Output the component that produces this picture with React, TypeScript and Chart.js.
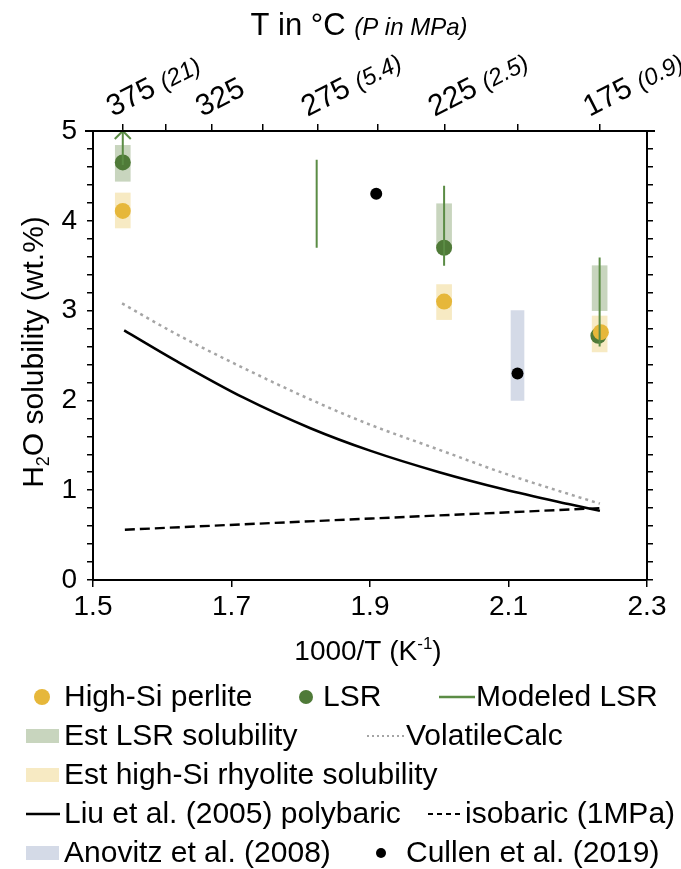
import React, { useEffect, useRef } from 'react';
import { Chart, registerables } from 'chart.js';

Chart.register(...registerables);

const W = 681;
const H = 869;
const PLOT_LEFT = 93;
const PLOT_RIGHT = 647;
const PLOT_TOP = 131;
const PLOT_BOTTOM = 580;
const FONT = '"Liberation Sans", Arial, Helvetica, sans-serif';

// ---- axis ticks ----
const xTickValues = [1.5, 1.7, 1.9, 2.1, 2.3];
const topTickTempsC = [375, 350, 325, 300, 275, 250, 225, 200, 175];
const topLabelTempsC = [375, 325, 275, 225, 175];
const topLabelPressures = ['(21)', '', '(5.4)', '(2.5)', '(0.9)'];

// ---- data (x = 1000/T in K^-1, y = H2O wt.%) ----
const perliteX = [1.543, 2.007, 2.2334];
const perliteY = [4.11, 3.1, 2.76];

const lsrX = [1.543, 2.007, 2.2298];
const lsrY = [4.65, 3.7, 2.72];

const modeledX = [1.543, 1.823, 2.007, 2.2316];
const modeledLo = [4.62, 3.7, 3.5, 2.6];
const modeledHi = [5.0, 4.68, 4.39, 3.59];
const modeledOpenTop = [true, false, false, false];

const estLsrX = [1.543, 2.007, 2.2316];
const estLsrLo = [4.44, 3.7, 3.0];
const estLsrHi = [4.84, 4.19, 3.5];

const estHiSiX = [1.543, 2.007, 2.2316];
const estHiSiLo = [3.92, 2.9, 2.54];
const estHiSiHi = [4.31, 3.29, 2.94];

const anovitzX = [2.113];
const anovitzLo = [2.0];
const anovitzHi = [3.0];

const cullenX = [1.909, 2.113];
const cullenY = [4.3, 2.3];

const liuX = [1.545, 1.62, 1.7175, 1.814, 1.9, 2.0, 2.093, 2.19, 2.232];
const liuY = [2.78, 2.44, 2.03, 1.69, 1.44, 1.2, 1.01, 0.84, 0.77];

const vcX = [1.542, 1.62, 1.7175, 1.814, 1.9, 2.0, 2.093, 2.19, 2.232];
const vcY = [3.08, 2.74, 2.36, 2.01, 1.73, 1.45, 1.19, 0.95, 0.85];

const isoX = [1.546, 1.9024, 2.232];
const isoY = [0.56, 0.685, 0.8];

// ---- colours ----
const C = {
  yellow: '#E6B73A',
  green: '#4F7A38',
  modeled: '#5B8C45',
  estLsr: '#C8D5BE',
  estHiSi: '#F7EAC3',
  anovitz: '#D4DAE7',
  vc: '#A5A5A5',
  black: '#000000',
};

const invT = (tC: number) => 1000 / (tC + 273.15);
const pts = (xs: number[], ys: number[]) => xs.map((x, i) => ({ x, y: ys[i] }));
const ranges = (xs: number[], lo: number[], hi: number[]) => xs.map((x, i) => ({ x, y: [lo[i], hi[i]] }));
const segments = (xs: number[], lo: number[], hi: number[]) =>
  xs.flatMap((x, i) => [{ x, y: lo[i] }, { x, y: hi[i] }, { x, y: null as any }]);

function drawLegend(ctx: CanvasRenderingContext2D) {
  const rows = [697, 736, 775, 814, 853];
  ctx.save();
  ctx.font = `30px ${FONT}`;
  ctx.textBaseline = 'middle';
  ctx.textAlign = 'left';
  const text = (s: string, x: number, cy: number) => {
    ctx.fillStyle = '#000';
    ctx.fillText(s, x, cy + 1);
  };
  const dot = (x: number, cy: number, r: number, c: string) => {
    ctx.fillStyle = c;
    ctx.beginPath();
    ctx.arc(x, cy, r, 0, Math.PI * 2);
    ctx.fill();
  };
  const box = (cy: number, c: string) => {
    ctx.fillStyle = c;
    ctx.fillRect(26, cy - 7, 33, 14);
  };
  const seg = (x0: number, x1: number, cy: number, c: string, w: number, dash: number[]) => {
    ctx.save();
    ctx.strokeStyle = c;
    ctx.lineWidth = w;
    ctx.setLineDash(dash);
    ctx.beginPath();
    ctx.moveTo(x0, cy);
    ctx.lineTo(x1, cy);
    ctx.stroke();
    ctx.restore();
  };
  // row 1
  dot(42, rows[0], 8, C.yellow);
  text('High-Si perlite', 64, rows[0]);
  dot(306, rows[0], 7, C.green);
  text('LSR', 323, rows[0]);
  seg(439, 475, rows[0], C.modeled, 2.5, []);
  text('Modeled LSR', 476, rows[0]);
  // row 2
  box(rows[1], C.estLsr);
  text('Est LSR solubility', 64, rows[1]);
  seg(367, 404, rows[1], C.vc, 2, [2, 3]);
  text('VolatileCalc', 406, rows[1]);
  // row 3
  box(rows[2], C.estHiSi);
  text('Est high-Si rhyolite solubility', 64, rows[2]);
  // row 4
  seg(26, 60, rows[3], C.black, 2.5, []);
  text('Liu et al. (2005) polybaric', 64, rows[3]);
  seg(428, 464, rows[3], C.black, 2, [5, 4]);
  text('isobaric (1MPa)', 465, rows[3]);
  // row 5
  box(rows[4], C.anovitz);
  text('Anovitz et al. (2008)', 64, rows[4]);
  dot(381, rows[4], 5, C.black);
  text('Cullen et al. (2019)', 406, rows[4]);
  ctx.restore();
}

const decorPlugin = {
  id: 'decor',
  afterDatasetsDraw(chart: any) {
    const ctx: CanvasRenderingContext2D = chart.ctx;
    const xs = chart.scales.x;
    const ys = chart.scales.y;
    modeledX.forEach((x, i) => {
      if (!modeledOpenTop[i]) return;
      const px = xs.getPixelForValue(x);
      const py = ys.getPixelForValue(modeledHi[i]);
      ctx.save();
      ctx.strokeStyle = C.modeled;
      ctx.lineWidth = 2;
      ctx.beginPath();
      ctx.moveTo(px - 8, py + 8);
      ctx.lineTo(px, py);
      ctx.lineTo(px + 8, py + 8);
      ctx.stroke();
      ctx.restore();
    });
  },
  afterDraw(chart: any) {
    const ctx: CanvasRenderingContext2D = chart.ctx;
    const area = chart.chartArea;
    const xt = chart.scales.x2;
    ctx.save();
    // top axis line extends a little beyond the frame
    ctx.strokeStyle = '#000';
    ctx.lineWidth = 2;
    ctx.beginPath();
    ctx.moveTo(area.left - 8, area.top);
    ctx.lineTo(area.right + 8, area.top);
    ctx.stroke();

    // top axis title
    ctx.fillStyle = '#000';
    ctx.textBaseline = 'alphabetic';
    ctx.textAlign = 'left';
    const t1 = 'T in °C ';
    const t2 = '(P in MPa)';
    ctx.font = `31px ${FONT}`;
    const w1 = ctx.measureText(t1).width;
    ctx.font = `italic 24px ${FONT}`;
    const w2 = ctx.measureText(t2).width;
    const sx = 359 - (w1 + w2) / 2;
    ctx.font = `31px ${FONT}`;
    ctx.fillText(t1, sx, 35);
    ctx.font = `italic 24px ${FONT}`;
    ctx.fillText(t2, sx + w1, 35);

    // top tick labels (rotated)
    topLabelTempsC.forEach((t, i) => {
      const px = xt.getPixelForValue(invT(t));
      ctx.save();
      ctx.translate(px - 10, 117);
      ctx.rotate((-27 * Math.PI) / 180);
      ctx.font = `30px ${FONT}`;
      const main = String(t) + ' ';
      ctx.fillText(main, 0, 0);
      const wm = ctx.measureText(main).width;
      if (topLabelPressures[i]) {
        ctx.font = `italic 24px ${FONT}`;
        ctx.fillText(topLabelPressures[i], wm, 0);
      }
      ctx.restore();
    });

    // y axis title with subscript
    ctx.save();
    ctx.translate(43, 352);
    ctx.rotate(-Math.PI / 2);
    const a = 'H';
    const b = '2';
    const c = 'O solubility (wt.%)';
    ctx.font = `30px ${FONT}`;
    const wa = ctx.measureText(a).width;
    const wc = ctx.measureText(c).width;
    ctx.font = `18px ${FONT}`;
    const wb = ctx.measureText(b).width;
    let x0 = -(wa + wb + wc) / 2;
    ctx.font = `30px ${FONT}`;
    ctx.fillText(a, x0, 0);
    x0 += wa;
    ctx.font = `18px ${FONT}`;
    ctx.fillText(b, x0, 6);
    x0 += wb;
    ctx.font = `30px ${FONT}`;
    ctx.fillText(c, x0, 0);
    ctx.restore();

    // x axis title with superscript
    const p1 = '1000/T (K';
    const p2 = '-1';
    const p3 = ')';
    ctx.font = `28px ${FONT}`;
    const q1 = ctx.measureText(p1).width;
    const q3 = ctx.measureText(p3).width;
    ctx.font = `17px ${FONT}`;
    const q2 = ctx.measureText(p2).width;
    let xx = 368 - (q1 + q2 + q3) / 2;
    ctx.font = `28px ${FONT}`;
    ctx.fillText(p1, xx, 660);
    xx += q1;
    ctx.font = `17px ${FONT}`;
    ctx.fillText(p2, xx, 649);
    xx += q2;
    ctx.font = `28px ${FONT}`;
    ctx.fillText(p3, xx, 660);

    ctx.restore();
    drawLegend(ctx);
  },
};

const isInt = (v: number) => Math.abs(v - Math.round(v)) < 1e-6;

export default function App() {
  const ref = useRef<HTMLCanvasElement>(null);
  useEffect(() => {
    const canvas = ref.current;
    if (!canvas) return;
    Chart.defaults.font.family = FONT;
    const tickFont = { size: 28, family: FONT };
    const chart = new Chart(canvas, {
      type: 'scatter',
      data: {
        datasets: [
          {
            type: 'bar',
            label: 'Est LSR solubility',
            data: ranges(estLsrX, estLsrLo, estLsrHi) as any,
            backgroundColor: C.estLsr,
            borderWidth: 0,
            barThickness: 15,
            grouped: false,
            order: 10,
            xAxisID: 'x',
            yAxisID: 'y',
          } as any,
          {
            type: 'bar',
            label: 'Est high-Si rhyolite solubility',
            data: ranges(estHiSiX, estHiSiLo, estHiSiHi) as any,
            backgroundColor: C.estHiSi,
            borderWidth: 0,
            barThickness: 15,
            grouped: false,
            order: 10,
            xAxisID: 'x',
            yAxisID: 'y',
          } as any,
          {
            type: 'bar',
            label: 'Anovitz et al. (2008)',
            data: ranges(anovitzX, anovitzLo, anovitzHi) as any,
            backgroundColor: C.anovitz,
            borderWidth: 0,
            barThickness: 13,
            grouped: false,
            order: 10,
            xAxisID: 'x',
            yAxisID: 'y',
          } as any,
          {
            type: 'line',
            label: 'Liu et al. (2005) polybaric',
            data: pts(liuX, liuY),
            borderColor: C.black,
            borderWidth: 2.5,
            pointRadius: 0,
            fill: false,
            cubicInterpolationMode: 'monotone',
            order: 8,
            xAxisID: 'x',
            yAxisID: 'y',
          } as any,
          {
            type: 'line',
            label: 'VolatileCalc',
            data: pts(vcX, vcY),
            borderColor: C.vc,
            borderWidth: 2.5,
            borderDash: [3, 4],
            pointRadius: 0,
            fill: false,
            cubicInterpolationMode: 'monotone',
            order: 8,
            xAxisID: 'x',
            yAxisID: 'y',
          } as any,
          {
            type: 'line',
            label: 'isobaric (1MPa)',
            data: pts(isoX, isoY),
            borderColor: C.black,
            borderWidth: 2.4,
            borderDash: [10, 5],
            pointRadius: 0,
            fill: false,
            order: 8,
            xAxisID: 'x',
            yAxisID: 'y',
          } as any,
          {
            type: 'scatter',
            label: 'LSR',
            data: pts(lsrX, lsrY),
            backgroundColor: C.green,
            borderWidth: 0,
            pointRadius: 8,
            order: 5,
            xAxisID: 'x',
            yAxisID: 'y',
          } as any,
          {
            type: 'scatter',
            label: 'High-Si perlite',
            data: pts(perliteX, perliteY),
            backgroundColor: C.yellow,
            borderWidth: 0,
            pointRadius: 8,
            order: 4,
            xAxisID: 'x',
            yAxisID: 'y',
          } as any,
          {
            type: 'line',
            label: 'Modeled LSR',
            data: segments(modeledX, modeledLo, modeledHi),
            borderColor: C.modeled,
            borderWidth: 2,
            pointRadius: 0,
            spanGaps: false,
            fill: false,
            order: 2,
            xAxisID: 'x',
            yAxisID: 'y',
          } as any,
          {
            type: 'scatter',
            label: 'Cullen et al. (2019)',
            data: pts(cullenX, cullenY),
            backgroundColor: C.black,
            borderWidth: 0,
            pointRadius: 6,
            order: 1,
            xAxisID: 'x',
            yAxisID: 'y',
          } as any,
        ],
      },
      options: {
        responsive: false,
        animation: false,
        devicePixelRatio: 1,
        events: [],
        layout: { padding: 0 },
        plugins: {
          legend: { display: false },
          tooltip: { enabled: false },
          title: { display: false },
        },
        scales: {
          x: {
            type: 'linear',
            position: 'bottom',
            min: 1.5,
            max: 2.3,
            offset: false,
            afterBuildTicks: (s: any) => {
              s.ticks = xTickValues.map((v) => ({ value: v }));
            },
            ticks: {
              autoSkip: false,
              maxRotation: 0,
              minRotation: 0,
              padding: 3,
              color: '#000',
              font: tickFont,
              callback: (v: any) => Number(v).toFixed(1),
            },
            grid: {
              display: true,
              drawOnChartArea: false,
              drawTicks: true,
              tickLength: 7,
              color: '#000',
              lineWidth: 1.5,
              offset: false,
            },
            border: { display: true, color: '#000', width: 2 },
            afterFit: (s: any) => {
              s.height = H - PLOT_BOTTOM;
            },
          },
          x2: {
            type: 'linear',
            position: 'top',
            min: 1.5,
            max: 2.3,
            offset: false,
            afterBuildTicks: (s: any) => {
              s.ticks = topTickTempsC.map((t) => ({ value: invT(t) }));
            },
            ticks: {
              autoSkip: false,
              maxRotation: 0,
              minRotation: 0,
              callback: () => '',
            },
            grid: {
              display: true,
              drawOnChartArea: false,
              drawTicks: true,
              tickLength: 7,
              color: '#000',
              lineWidth: 1.5,
              offset: false,
            },
            border: { display: true, color: '#000', width: 2 },
            afterFit: (s: any) => {
              s.height = PLOT_TOP;
            },
          },
          y: {
            type: 'linear',
            position: 'left',
            min: 0,
            max: 5,
            ticks: {
              stepSize: 0.2,
              autoSkip: false,
              padding: 10,
              color: '#000',
              font: tickFont,
              callback: (v: any) => (isInt(Number(v)) ? String(Math.round(Number(v))) : ''),
            },
            grid: {
              display: true,
              drawOnChartArea: false,
              drawTicks: true,
              tickLength: 6,
              color: '#000',
              lineWidth: 1.5,
            },
            border: { display: true, color: '#000', width: 2 },
            afterFit: (s: any) => {
              s.width = PLOT_LEFT;
            },
          },
          y2: {
            type: 'linear',
            position: 'right',
            min: 0,
            max: 5,
            ticks: {
              stepSize: 0.2,
              autoSkip: false,
              callback: () => '',
            },
            grid: {
              display: true,
              drawOnChartArea: false,
              drawTicks: true,
              tickLength: 6,
              color: '#000',
              lineWidth: 1.5,
            },
            border: { display: true, color: '#000', width: 2 },
            afterFit: (s: any) => {
              s.width = W - PLOT_RIGHT;
            },
          },
        },
      } as any,
      plugins: [decorPlugin],
    });
    return () => chart.destroy();
  }, []);

  return (
    <div style={{ position: 'fixed', left: 0, top: 0, width: W, height: H, background: '#fff' }}>
      <canvas ref={ref} width={W} height={H} style={{ display: 'block', width: W, height: H }} />
    </div>
  );
}
